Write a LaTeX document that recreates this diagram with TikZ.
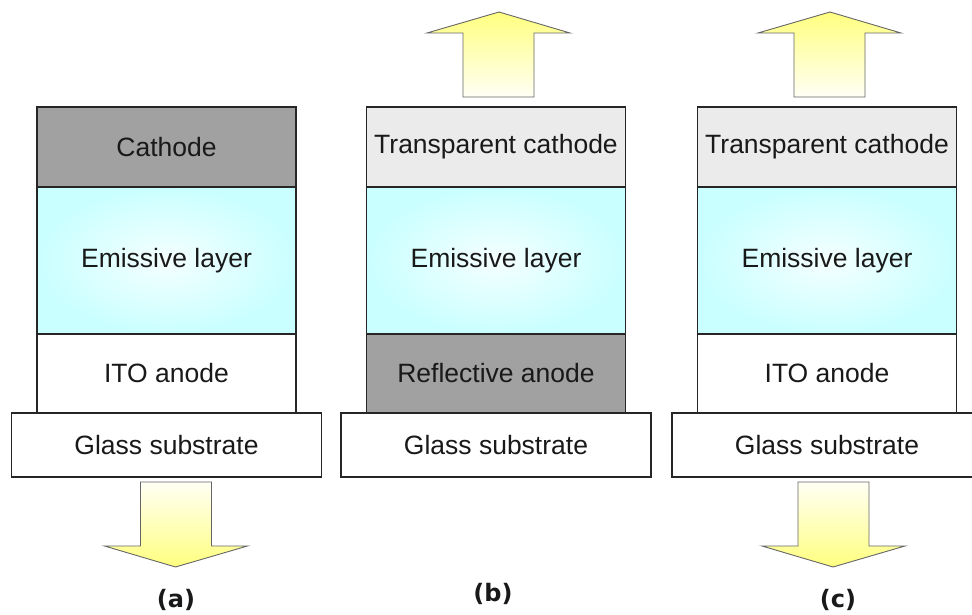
\documentclass[tikz,border=0pt]{standalone}
\usepackage{fontspec}
\setmainfont{Liberation Sans}
\newfontfamily\capfont{DejaVu Sans}
\usepackage{tikz}
\usetikzlibrary{positioning, calc}

\begin{document}
\begin{tikzpicture}[
        x=1pt, y=1pt,
        node distance=0pt,
        layer/.style={
                rectangle, draw=black!85, line width=1.2pt,
                minimum width=259pt, inner sep=2pt, outer sep=0pt,
                font=\fontsize{26.5}{30}\selectfont, text=black!90
            },
        darkcathode/.style={layer, fill=black!37, minimum height=80pt},
        clearcathode/.style={layer, fill=black!8, minimum height=80pt},
        emissive/.style={layer, inner color=cyan!4, outer color=cyan!21, minimum height=147pt},
        itoanode/.style={layer, fill=white, minimum height=79pt},
        reflanode/.style={layer, fill=black!37, minimum height=79pt},
        substrate/.style={layer, fill=white, minimum width=310pt, minimum height=64pt},
        lightout/.style={draw=black!60, line width=0.9pt, line join=miter},
        lightdown/.style={lightout, top color=yellow!4!white, bottom color=yellow!50!white},
        lightup/.style={lightout, top color=yellow!50!white, bottom color=yellow!4!white},
        caption/.style={font=\capfont\fontsize{24}{28}\selectfont\bfseries, text=black!90}
    ]
    \useasboundingbox (0,0) rectangle (972,614);

    % (a) bottom emitting
    \node[darkcathode, anchor=north] (catha) at (166.5,507) {Cathode};
    \node[emissive, below=of catha] (ema) {Emissive layer};
    \node[itoanode, below=of ema] (anodea) {ITO anode};
    \node[substrate, below=of anodea] (glassa) {Glass substrate};

    % (b) top emitting
    \node[clearcathode, anchor=north] (cathb) at (496,507) {Transparent cathode};
    \node[emissive, below=of cathb] (emb) {Emissive layer};
    \node[reflanode, below=of emb] (anodeb) {Reflective anode};
    \node[substrate, below=of anodeb] (glassb) {Glass substrate};

    % (c) transparent
    \node[clearcathode, anchor=north] (cathc) at (827,507) {Transparent cathode};
    \node[emissive, below=of cathc] (emc) {Emissive layer};
    \node[itoanode, below=of emc] (anodec) {ITO anode};
    \node[substrate, below=of anodec] (glassc) {Glass substrate};

    % light output
    \draw[lightdown] ([shift={(-26,-5)}]glassa.south) -- ++(0,-64) -- ++(-36,0) -- ++(71,-21)
        -- ++(72,21) -- ++(-36,0) -- ++(0,64) -- cycle;
    \draw[lightup] ([shift={(-33,10)}]cathb.north) -- ++(0,64) -- ++(-36,0) -- ++(72,21)
        -- ++(71,-21) -- ++(-36,0) -- ++(0,-64) -- cycle;
    \draw[lightup] ([shift={(-33,10)}]cathc.north) -- ++(0,64) -- ++(-36,0) -- ++(72,21)
        -- ++(71,-21) -- ++(-36,0) -- ++(0,-64) -- cycle;
    \draw[lightdown] ([shift={(-29,-5)}]glassc.south) -- ++(0,-64) -- ++(-36,0) -- ++(71,-21)
        -- ++(72,21) -- ++(-36,0) -- ++(0,64) -- cycle;

    \node[caption] (capa) at (176,14) {(a)};
    \node[caption] (capb) at (493,20) {(b)};
    \node[caption] (capc) at (838,14) {(c)};
\end{tikzpicture}
\end{document}
